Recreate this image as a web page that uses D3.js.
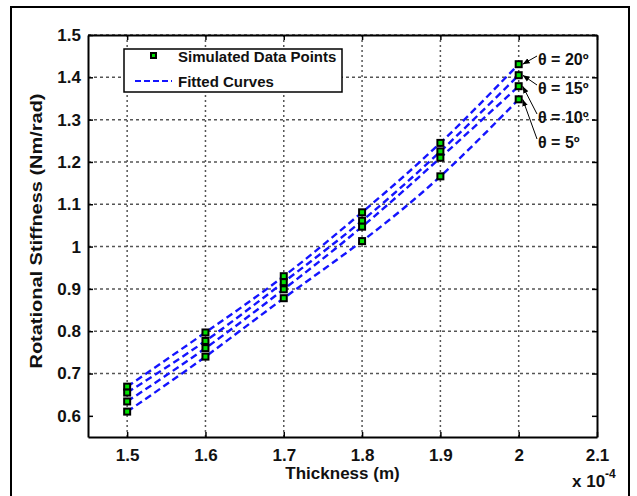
<!DOCTYPE html>
<html>
<head>
<meta charset="utf-8">
<script src="https://cdn.jsdelivr.net/npm/d3@7"></script>
<style>
  body { margin: 0; background: #fff; }
  text { font-family: "Liberation Sans", Arial, sans-serif; font-weight: bold; fill: #111; }
</style>
</head>
<body>
<div id="chart"></div>
<script>
// thickness values (x 10^-4 m)
var thickness = [1.5, 1.6, 1.7, 1.8, 1.9, 2.0];

// rotational stiffness per angle (Nm/rad)
var angles = [20, 15, 10, 5];
var stiff20 = [0.669, 0.797, 0.930, 1.081, 1.245, 1.431];
var stiff15 = [0.655, 0.777, 0.916, 1.061, 1.225, 1.405];
var stiff10 = [0.634, 0.760, 0.899, 1.047, 1.210, 1.379];
var stiff5  = [0.610, 0.740, 0.878, 1.013, 1.166, 1.348];
var series = [stiff20, stiff15, stiff10, stiff5];

var xTicks = [1.5, 1.6, 1.7, 1.8, 1.9, 2.0, 2.1];
var yTicks = [0.6, 0.7, 0.8, 0.9, 1.0, 1.1, 1.2, 1.3, 1.4, 1.5];

var svgWidth = 637, svgHeight = 496;
var margin = { top: 35, right: 40, bottom: 59, left: 88 };
var width = 597 - margin.left;
var height = 437 - margin.top;

var svg = d3.select("#chart").append("svg")
  .attr("width", svgWidth)
  .attr("height", svgHeight);

// outer frame
svg.append("rect")
  .attr("x", 11).attr("y", 7)
  .attr("width", 618).attr("height", 500)
  .attr("fill", "none").attr("stroke", "#000").attr("stroke-width", 2);

var g = svg.append("g")
  .attr("transform", `translate(${margin.left}, ${margin.top})`);

var x = d3.scaleLinear().domain([1.45, 2.1]).range([0, width]);
var y = d3.scaleLinear().domain([0.55, 1.5]).range([height, 0]);

// dotted grid
g.append("g").selectAll("line").data(xTicks.slice(0, -1)).enter().append("line")
  .attr("x1", d => x(d)).attr("x2", d => x(d))
  .attr("y1", 0).attr("y2", height)
  .attr("stroke", "#555").attr("stroke-width", 1.5).attr("stroke-dasharray", "2,3");
g.append("g").selectAll("line").data(yTicks.slice(1)).enter().append("line")
  .attr("x1", 0).attr("x2", width)
  .attr("y1", d => y(d)).attr("y2", d => y(d))
  .attr("stroke", "#555").attr("stroke-width", 1.5).attr("stroke-dasharray", "3,3");

// axes with inward ticks
var bottomAxis = d3.axisBottom(x).tickValues(xTicks).tickSizeInner(-5).tickSizeOuter(0)
  .tickPadding(12).tickFormat(d3.format("~g"));
var leftAxis = d3.axisLeft(y).tickValues(yTicks).tickSizeInner(-5).tickSizeOuter(0)
  .tickPadding(7).tickFormat(d3.format("~g"));
var topAxis = d3.axisTop(x).tickValues(xTicks).tickSizeInner(-5).tickSizeOuter(0).tickFormat("");
var rightAxis = d3.axisRight(y).tickValues(yTicks).tickSizeInner(-5).tickSizeOuter(0).tickFormat("");

function styleAxis(sel) {
  sel.select(".domain").attr("stroke", "#000").attr("stroke-width", 2);
  sel.selectAll(".tick line").attr("stroke", "#000").attr("stroke-width", 1.5);
  sel.selectAll(".tick text").style("font-size", "17px").attr("font-family", null).style("fill", "#111");
}

g.append("g").attr("transform", `translate(0, ${height})`).call(bottomAxis).call(styleAxis);
g.append("g").call(leftAxis).call(styleAxis);
g.append("g").call(topAxis).call(styleAxis);
g.append("g").attr("transform", `translate(${width}, 0)`).call(rightAxis).call(styleAxis);

// fitted curves
var line = d3.line()
  .x((d, i) => x(thickness[i]))
  .y(d => y(d))
  .curve(d3.curveNatural);

g.append("g").selectAll("path").data(series).enter().append("path")
  .attr("d", d => line(d))
  .attr("fill", "none")
  .attr("stroke", "#1414ff")
  .attr("stroke-width", 2.4)
  .attr("stroke-dasharray", "7,4");

// simulated data points
var points = [];
series.forEach(function(s) {
  s.forEach(function(v, i) { points.push({ t: thickness[i], v: v }); });
});
g.append("g").selectAll("rect").data(points).enter().append("rect")
  .attr("x", d => x(d.t) - 3)
  .attr("y", d => y(d.v) - 3)
  .attr("width", 6).attr("height", 6)
  .attr("fill", "#00e000")
  .attr("stroke", "#000").attr("stroke-width", 2);

// angle annotations with arrows
svg.append("defs").append("marker")
  .attr("id", "arrow").attr("viewBox", "0 0 10 10")
  .attr("refX", 10).attr("refY", 5)
  .attr("markerWidth", 7).attr("markerHeight", 7)
  .attr("orient", "auto")
  .append("path").attr("d", "M0,1 L10,5 L0,9 Z").attr("fill", "#000");

var labelY = [59, 88, 117, 142];
var lastIdx = thickness.length - 1;
angles.forEach(function(a, i) {
  var px = margin.left + x(thickness[lastIdx]) + 4;
  var py = margin.top + y(series[i][lastIdx]);
  svg.append("line")
    .attr("x1", 537).attr("y1", labelY[i] - 3)
    .attr("x2", px).attr("y2", py)
    .attr("stroke", "#000").attr("stroke-width", 1)
    .attr("marker-end", "url(#arrow)");
  svg.append("text")
    .attr("x", 538).attr("y", labelY[i] + 6)
    .style("font-size", "16px")
    .text("θ = " + a + "º");
});

// legend
var legend = g.append("g").attr("transform", "translate(36, 14)");
legend.append("rect")
  .attr("width", 218).attr("height", 43)
  .attr("fill", "#fff").attr("stroke", "#000").attr("stroke-width", 1.5);
legend.append("rect")
  .attr("x", 27).attr("y", 4).attr("width", 5).attr("height", 5)
  .attr("fill", "#00e000").attr("stroke", "#000").attr("stroke-width", 2);
legend.append("text").attr("x", 54).attr("y", 13).style("font-size", "15px").text("Simulated Data Points");
legend.append("line")
  .attr("x1", 11).attr("x2", 48).attr("y1", 32).attr("y2", 32)
  .attr("stroke", "#1414ff").attr("stroke-width", 2).attr("stroke-dasharray", "6,3");
legend.append("text").attr("x", 54).attr("y", 38).style("font-size", "15px").text("Fitted Curves");

// axis titles
g.append("text")
  .attr("transform", "rotate(-90)")
  .attr("x", -height / 2 + 5).attr("y", -46)
  .attr("text-anchor", "middle")
  .style("font-size", "17px")
  .attr("textLength", 275)
  .attr("lengthAdjust", "spacingAndGlyphs")
  .text("Rotational Stiffness (Nm/rad)");

g.append("text")
  .attr("x", width / 2).attr("y", height + 42)
  .attr("text-anchor", "middle")
  .style("font-size", "17px")
  .text("Thickness (m)");

// exponent label
var expo = svg.append("text").attr("x", 572).attr("y", 487).style("font-size", "17px");
expo.append("tspan").text("x 10");
expo.append("tspan").attr("dy", -9).style("font-size", "12px").text("-4");
</script>
</body>
</html>
